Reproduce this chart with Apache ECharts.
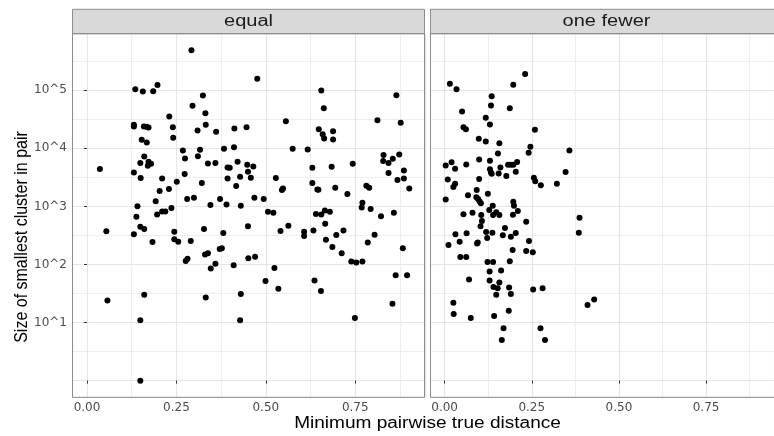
<!DOCTYPE html>
<html>
<head>
<meta charset="utf-8">
<script src="https://cdn.jsdelivr.net/npm/echarts@6/dist/echarts.min.js"></script>
<style>
  html, body { margin: 0; padding: 0; background: #ffffff; }
  #chart { width: 774px; height: 436px; }
</style>
</head>
<body>
<div id="chart"></div>
<script>
// Facet labels (one panel per condition)
const facets = ['equal', 'one fewer'];

// "equal": minimum pairwise true distance for each pair
const equalDist = [
  0.036, 0.054, 0.057, 0.131, 0.131, 0.135, 0.131, 0.131, 0.138, 0.141,
  0.149, 0.149, 0.150, 0.149, 0.149, 0.156, 0.153, 0.159, 0.166, 0.172,
  0.160, 0.160, 0.160, 0.167, 0.170, 0.172, 0.179, 0.183, 0.185, 0.192,
  0.196, 0.197, 0.203, 0.210, 0.210, 0.219, 0.230, 0.229, 0.236, 0.240,
  0.244, 0.241, 0.244, 0.251, 0.255, 0.268, 0.274, 0.273, 0.276, 0.281,
  0.280, 0.290, 0.295, 0.299, 0.309, 0.310, 0.316, 0.321, 0.324, 0.327,
  0.331, 0.332, 0.330, 0.338, 0.332, 0.338, 0.345, 0.346, 0.359, 0.361,
  0.359, 0.372, 0.371, 0.377, 0.381, 0.383, 0.393, 0.393, 0.399, 0.390,
  0.410, 0.412, 0.411, 0.417, 0.421, 0.428, 0.428, 0.430, 0.430, 0.446,
  0.450, 0.448, 0.450, 0.451, 0.458, 0.465, 0.468, 0.470, 0.476, 0.494,
  0.499, 0.506, 0.521, 0.524, 0.528, 0.535, 0.541, 0.545, 0.548, 0.556,
  0.563, 0.575, 0.607, 0.607, 0.617, 0.630, 0.630, 0.636, 0.633, 0.640,
  0.644, 0.647, 0.654, 0.648, 0.655, 0.655, 0.659, 0.662, 0.663, 0.665,
  0.666, 0.668, 0.679, 0.684, 0.688, 0.688, 0.686, 0.694, 0.697, 0.712,
  0.717, 0.728, 0.739, 0.753, 0.770, 0.743, 0.749, 0.768, 0.770, 0.781,
  0.789, 0.785, 0.793, 0.804, 0.812, 0.822, 0.829, 0.828, 0.843, 0.843,
  0.858, 0.855, 0.854, 0.863, 0.865, 0.868, 0.873, 0.877, 0.883, 0.886,
  0.886, 0.895, 0.901, 0.292
];
// "equal": size of the smallest cluster in each pair
const equalSize = [
  4400, 372, 24, 25400, 23700, 104000, 3850, 330, 664, 1010,
  1, 11, 3070, 5560, 447, 94900, 14000, 23700, 23400, 22800,
  7240, 408, 30, 12600, 5000, 5860, 5420, 244, 96100, 1220,
  728, 123500, 1835, 3030, 820, 820, 35300, 1985, 936, 23100,
  367, 15160, 271, 2655, 247, 9180, 6690, 3600, 115, 126,
  1337, 254, 53800, 1410, 20270, 7330, 9420, 2520, 80900, 408,
  40200, 25400, 148, 156, 27, 5490, 1054, 85, 103, 19200,
  5560, 1337, 185, 190, 348, 9800, 3030, 4680, 4620, 1082,
  97, 21900, 10470, 2237, 5860, 3236, 11, 31, 1026, 23100,
  453, 5200, 3945, 128, 3110, 4870, 1410, 136, 156800, 1337,
  52, 809, 778, 87, 3070, 38, 377, 1910, 2040, 29300,
  465, 9800, 367, 309, 9550, 2520, 4620, 53, 386, 738,
  1960, 1935, 35, 21360, 728, 98700, 17520, 49000, 14760, 853,
  504, 267, 809, 4810, 19720, 14190, 200, 2094, 321, 156,
  386, 1630, 112, 108, 112, 5420, 12, 961, 1156, 2265,
  2094, 240, 900, 326, 30500, 673, 7630, 6020, 5560, 3740,
  778, 6600, 21, 65, 82100, 2836, 7830, 27440, 190, 4160,
  3030, 65, 2040, 487500
];

// "one fewer": minimum pairwise true distance for each pair
const fewerDist = [
  0.015, 0.034, 0.197, 0.231, 0.135, 0.133, 0.187, 0.050, 0.118, 0.130,
  0.054, 0.061, 0.259, 0.098, 0.118, 0.157, 0.246, 0.241, 0.358, 0.153,
  0.099, 0.130, 0.020, 0.003, 0.030, 0.062, 0.130, 0.133, 0.135, 0.160,
  0.155, 0.182, 0.190, 0.197, 0.208, 0.177, 0.204, 0.347, 0.099, 0.009,
  0.030, 0.025, 0.092, 0.124, 0.067, 0.003, 0.091, 0.096, 0.100, 0.104,
  0.138, 0.197, 0.199, 0.256, 0.260, 0.276, 0.322, 0.128, 0.148, 0.080,
  0.054, 0.105, 0.139, 0.157, 0.196, 0.210, 0.107, 0.103, 0.031, 0.063,
  0.119, 0.137, 0.122, 0.167, 0.173, 0.190, 0.204, 0.011, 0.043, 0.093,
  0.095, 0.195, 0.045, 0.062, 0.123, 0.139, 0.187, 0.129, 0.162, 0.070,
  0.129, 0.157, 0.140, 0.152, 0.185, 0.190, 0.148, 0.025, 0.026, 0.075,
  0.142, 0.184, 0.169, 0.164, 0.234, 0.242, 0.234, 0.253, 0.387, 0.385,
  0.254, 0.281, 0.410, 0.429, 0.275, 0.288
];
// "one fewer": size of the smallest cluster in each pair
const fewerSize = [
  128800, 104000, 123700, 191000, 78800, 54500, 49000, 42900, 33500, 25700,
  23100, 21300, 20800, 14600, 13100, 12200, 10600, 8380, 9180, 8150,
  6430, 6110, 5780, 5070, 4450, 5270, 4370, 3850, 3650, 4690,
  3690, 5210, 5210, 5210, 5820, 3320, 3950, 3890, 2950, 2910,
  2450, 2150, 1910, 1650, 1560, 1320, 1430, 1340, 1230, 1130,
  1030, 1200, 1030, 3120, 2720, 2300, 2450, 865, 789, 780,
  729, 710, 710, 710, 720, 830, 558, 453, 330, 344,
  361, 353, 285, 318, 424, 301, 347, 216, 247, 229,
  238, 177, 135, 135, 110, 110, 114, 76, 79, 55,
  53, 49, 41, 39, 40, 31, 30, 22, 14, 12,
  13, 16, 8, 5, 546, 254, 171, 162, 640, 353,
  37, 39, 20, 25, 8, 5
];

// Axis breaks: distances, and exponents of the log10 size axis
const xTicks = [0, 0.25, 0.5, 0.75];
const yTicks = [1, 2, 3, 4, 5];

// Shared panel scales (log10 on y, with a 5% margin round the data)
const X_MIN = -0.042, X_MAX = 0.945;
const Y_MIN = -0.287, Y_MAX = 5.973;

// Panel geometry
const PANEL_TOP = 33.7, PANEL_H = 363.6, PANEL_W = 353;
const PANEL_LEFT = [72, 430];
const STRIP_TOP = 9.3, STRIP_H = 24.4;

const GRID_MAJOR = '#E6E6E6', GRID_MINOR = '#EEEEEE';
const BORDER = '#8C8C8C';
const TICK_FONT = 'DejaVu Sans';
const TITLE_FONT = 'Liberation Sans';

const toPoints = (dist, size) => dist.map((d, i) => [d, Math.log10(size[i])]);
const panelData = [toPoints(equalDist, equalSize), toPoints(fewerDist, fewerSize)];

const grids = PANEL_LEFT.map(l => ({
  left: l, top: PANEL_TOP, width: PANEL_W, height: PANEL_H,
  show: false, containLabel: false
}));

const xAxes = [], yAxes = [];
PANEL_LEFT.forEach((_, g) => {
  // gridline axis
  xAxes.push({
    gridIndex: g, type: 'value', min: X_MIN, max: X_MAX,
    minInterval: 0.25, maxInterval: 0.25,
    axisLine: { show: false }, axisTick: { show: false }, axisLabel: { show: false },
    splitLine: { show: true, lineStyle: { color: GRID_MAJOR, width: 1.2 } },
    minorTick: { show: false, splitNumber: 2 },
    minorSplitLine: { show: true, lineStyle: { color: GRID_MINOR, width: 1 } }
  });
  // tick marks and labels
  xAxes.push({
    gridIndex: g, type: 'value', position: 'bottom', min: X_MIN, max: X_MAX,
    axisLine: { show: false }, splitLine: { show: false },
    axisTick: { show: true, length: 3, customValues: xTicks, lineStyle: { color: '#333333', width: 1 } },
    axisLabel: {
      show: true, customValues: xTicks, margin: 5,
      formatter: v => v.toFixed(2),
      color: '#4D4D4D', fontFamily: TICK_FONT, fontSize: 12
    }
  });
  yAxes.push({
    gridIndex: g, type: 'value', min: Y_MIN, max: Y_MAX,
    minInterval: 1, maxInterval: 1,
    axisLine: { show: false }, axisTick: { show: false }, axisLabel: { show: false },
    splitLine: { show: true, lineStyle: { color: GRID_MAJOR, width: 1.2 } },
    minorTick: { show: false, splitNumber: 2 },
    minorSplitLine: { show: true, lineStyle: { color: GRID_MINOR, width: 1 } }
  });
  yAxes.push({
    gridIndex: g, type: 'value', position: 'left', min: Y_MIN, max: Y_MAX,
    axisLine: { show: false }, splitLine: { show: false },
    axisTick: { show: g === 0, length: 3, customValues: yTicks, lineStyle: { color: '#333333', width: 1 } },
    axisLabel: {
      show: g === 0, customValues: yTicks, margin: 5,
      formatter: v => '10^' + v,
      color: '#4D4D4D', fontFamily: TICK_FONT, fontSize: 12
    }
  });
});

const series = panelData.map((data, g) => ({
  type: 'scatter',
  xAxisIndex: g * 2, yAxisIndex: g * 2,
  data: data,
  symbol: 'circle', symbolSize: 6,
  itemStyle: { color: '#000000', opacity: 1 },
  silent: true, z: 5
}));

const graphics = [];
PANEL_LEFT.forEach((l, g) => {
  graphics.push({
    type: 'rect', z: 20,
    shape: { x: l + 0.5, y: STRIP_TOP, width: PANEL_W - 1, height: STRIP_H },
    style: { fill: '#D9D9D9', stroke: BORDER, lineWidth: 1 }
  });
  graphics.push({
    type: 'text', z: 21,
    x: l + PANEL_W / 2, y: STRIP_TOP + STRIP_H / 2 + 0.5, scaleX: 1.25,
    style: {
      text: facets[g], x: 0, y: 0, textAlign: 'center', textVerticalAlign: 'middle',
      font: '16px "' + TITLE_FONT + '"', fill: '#1A1A1A'
    }
  });
  graphics.push({
    type: 'rect', z: 20,
    shape: { x: l + 0.5, y: PANEL_TOP, width: PANEL_W - 1, height: PANEL_H },
    style: { fill: 'none', stroke: BORDER, lineWidth: 1 }
  });
});
// axis titles
graphics.push({
  type: 'text', z: 21,
  x: (PANEL_LEFT[0] + PANEL_LEFT[1] + PANEL_W) / 2, y: 424, scaleX: 1.19,
  style: {
    text: 'Minimum pairwise true distance', x: 0, y: 0,
    textAlign: 'center', textVerticalAlign: 'middle',
    font: '16px "' + TITLE_FONT + '"', fill: '#000000'
  }
});
graphics.push({
  type: 'text', z: 21,
  x: 22, y: 237, rotation: Math.PI / 2, scaleY: 1.2,
  style: {
    text: 'Size of smallest cluster in pair', x: 0, y: 0,
    textAlign: 'center', textVerticalAlign: 'middle',
    font: '16px "' + TITLE_FONT + '"', fill: '#000000'
  }
});

const chart = echarts.init(document.getElementById('chart'), null, { renderer: 'canvas' });
chart.setOption({
  animation: false,
  backgroundColor: '#ffffff',
  grid: grids,
  xAxis: xAxes,
  yAxis: yAxes,
  series: series,
  graphic: graphics
});
</script>
</body>
</html>
